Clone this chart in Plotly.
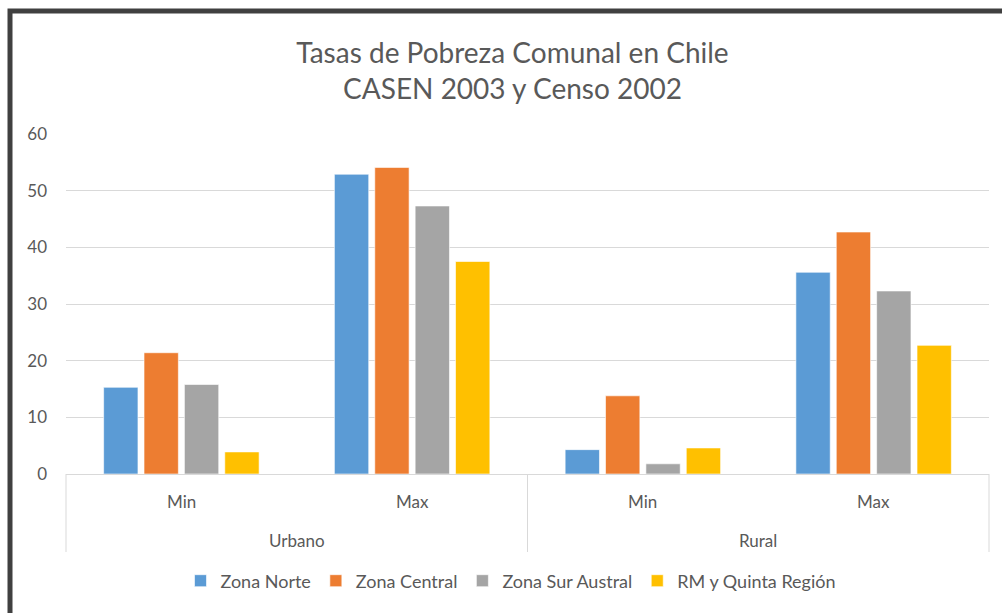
import plotly.graph_objects as go

zones = ["Urbano", "Urbano", "Rural", "Rural"]
levels = ["Min", "Max", "Min", "Max"]
zone_labels = ["Urbano", "Rural"]
series_names = ["Zona Norte", "Zona Central", "Zona Sur Austral", "RM y Quinta Región"]
zona_norte = [15.3, 52.9, 4.3, 35.6]
zona_central = [21.4, 54.1, 13.8, 42.7]
zona_sur_austral = [15.8, 47.3, 1.8, 32.3]
rm_quinta = [3.9, 37.5, 4.6, 22.7]
colors = ["#5b9bd5", "#ed7d31", "#a5a5a5", "#ffc000"]
y_ticks = [0, 10, 20, 30, 40, 50, 60]

W, H = 1002, 613
L, R, T, B = 66, 13, 134, 139
FONT = "Lato"
TXT = "#595959"
GRID = "#d9d9d9"

fig = go.Figure()
for name, vals, col in zip(series_names, [zona_norte, zona_central, zona_sur_austral, rm_quinta], colors):
    fig.add_trace(go.Bar(
        x=[zones, levels], y=vals, name=name,
        marker=dict(color=col, line=dict(color="rgba(255,255,255,0.6)", width=1)),
    ))

pw = W - L - R
ph = H - T - B
def px_x(x):
    return (x - L) / pw
def px_y(y):
    return (H - B - y) / ph

# outer frame
fig.add_shape(type="rect", xref="paper", yref="paper",
              x0=px_x(10), x1=px_x(1030), y0=px_y(640), y1=px_y(11),
              line=dict(color="#404040", width=5), layer="above")

# category labels and dividers (two-level axis)
n = len(levels)
for i, lab in enumerate(levels):
    fig.add_annotation(xref="paper", yref="paper", x=(i + 0.5) / n, y=px_y(501),
                       text=lab, showarrow=False, xanchor="center", yanchor="middle",
                       font=dict(family=FONT, size=17, color=TXT))
ng = len(zone_labels)
for j, lab in enumerate(zone_labels):
    fig.add_annotation(xref="paper", yref="paper", x=(j + 0.5) / ng, y=px_y(540),
                       text=lab, showarrow=False, xanchor="center", yanchor="middle",
                       font=dict(family=FONT, size=17, color=TXT))
for j in range(ng + 1):
    fig.add_shape(type="line", xref="paper", yref="paper", x0=j / ng, x1=j / ng,
                  y0=0, y1=px_y(552), line=dict(color=GRID, width=1))

fig.update_layout(
    width=W, height=H,
    margin=dict(l=L, r=R, t=T, b=B),
    paper_bgcolor="white", plot_bgcolor="white",
    font=dict(family=FONT, color=TXT, size=17),
    title=dict(text="Tasas de Pobreza Comunal en Chile<br>CASEN 2003 y Censo 2002",
               x=512.5 / W, xanchor="center", xref="container", y=1 - 63 / H, yanchor="middle",
               font=dict(family=FONT, size=28, color=TXT)),
    barmode="group", bargap=0.3, bargroupgap=0.15,
    showlegend=True,
    legend=dict(orientation="h", x=px_x(511), xanchor="center", y=px_y(581), yanchor="middle",
                font=dict(size=18, color=TXT), itemwidth=30, traceorder="normal"),
    xaxis=dict(type="multicategory", showgrid=False, showline=True, linecolor=GRID,
               linewidth=1, showdividers=False, showticklabels=False, ticks=""),
    yaxis=dict(range=[0, 60], tickvals=y_ticks, showgrid=True, gridcolor=GRID,
               gridwidth=1, zeroline=False, showline=False, ticks="",
               tickfont=dict(size=17, color=TXT), ticklabelstandoff=18),
)

fig.write_html("out.html", config={"displayModeBar": False},
               post_script="document.body.style.margin='0';")
